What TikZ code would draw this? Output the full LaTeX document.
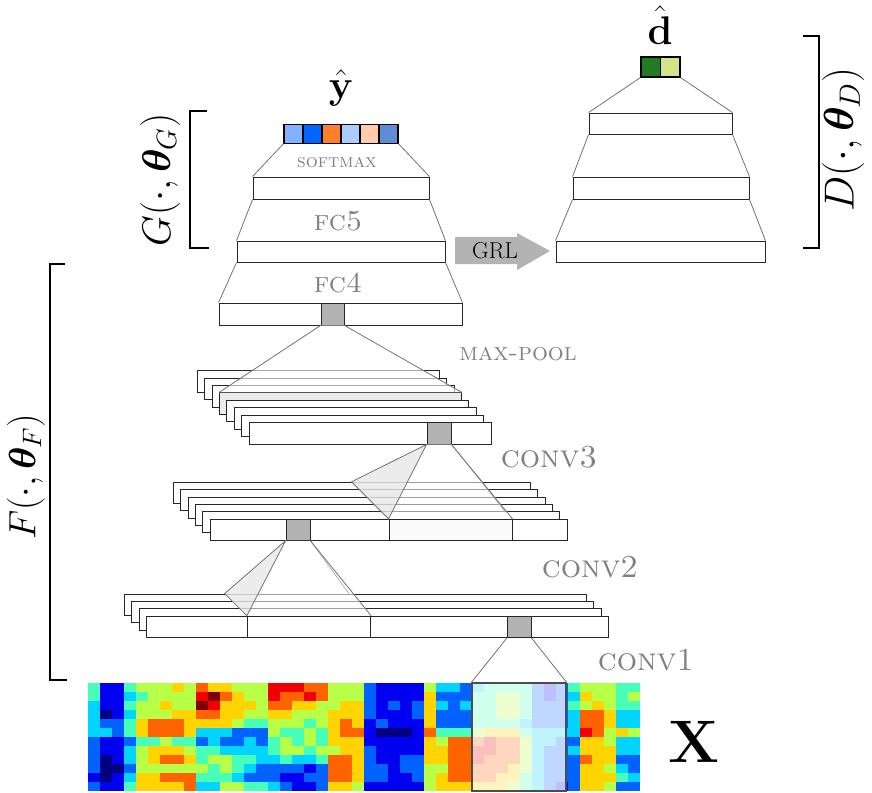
\RequirePackage{fix-cm}
\documentclass[tikz,border=0pt]{standalone}
\usepackage{amsmath}
\usepackage{bm}
\usepackage{tikz}
\usetikzlibrary{calc}
\definecolor{outa}{HTML}{80B3FF}
\definecolor{outb}{HTML}{0066FF}
\definecolor{outc}{HTML}{FF7F2A}
\definecolor{outd}{HTML}{AACCFF}
\definecolor{oute}{HTML}{FFCCAA}
\definecolor{outf}{HTML}{5F8DD3}
\definecolor{doma}{HTML}{227A22}
\definecolor{domb}{HTML}{D4E38A}
\definecolor{cellgray}{HTML}{B3B3B3}

\begin{document}
\begin{tikzpicture}[x=1pt, y=-1pt,
  layer/.style 2 args={draw=black!85, fill=white, line width=0.9pt, inner sep=0pt, minimum width=#1, minimum height=#2},
  unit/.style={draw=black, line width=1.2pt, inner sep=0pt, minimum width=19pt, minimum height=19pt},
  link/.style={draw=black!55, line width=0.8pt},
  faint/.style={draw=black!30, line width=0.8pt},
  lbl/.style={text=black!50, inner sep=0pt, font=\fontsize{#1}{#1}\selectfont\scshape},
  big/.style={inner sep=0pt, font=\fontsize{#1}{#1}\selectfont},
  brk/.style={line width=2.6pt}]
  \useasboundingbox (0,0) rectangle (872,792);

  % label predictor G
  \node[big=40] (yhat) at (341,88) {$\hat{\mathbf{y}}$};
  \foreach \c [count=\i] in {outa,outb,outc,outd,oute,outf}
    \node[unit, fill=\c] (y\i) at (274.5+19*\i,133.7) {};
  \node[layer={176pt}{22pt}] (sm) at (341,188) {};
  \node[layer={208pt}{21pt}] (fc5) at (341,251.5) {};
  \node[layer={243pt}{22pt}] (fc4) at (340.5,314) {};
  \node[layer={23pt}{22pt}, fill=cellgray] (fc4c) at (332.5,314) {};
  \draw[link] (y1.south west) -- (sm.north west);
  \draw[link] (y6.south east) -- (sm.north east);
  \draw[link] (sm.south west) -- (fc5.north west);
  \draw[link] (sm.south east) -- (fc5.north east);
  \draw[link] (fc5.south west) -- (fc4.north west);
  \draw[link] (fc5.south east) -- (fc4.north east);
  \node[lbl=19] (smtxt) at (337,163) {softmax};
  \node[lbl=29] (fc5txt) at (338,221) {fc5};
  \node[lbl=29] (fc4txt) at (338,283) {fc4};

  % domain classifier D
  \node[big=40] (dhat) at (660,25) {$\hat{\mathbf{d}}$};
  \node[unit, fill=doma, minimum width=19.5pt, minimum height=20pt] (d1) at (650.75,67) {};
  \node[unit, fill=domb, minimum width=19.5pt, minimum height=20pt] (d2) at (670.25,67) {};
  \node[layer={143pt}{21pt}] (dd1) at (660.5,123.5) {};
  \node[layer={176pt}{22pt}] (dd2) at (661,188) {};
  \node[layer={209pt}{21pt}] (dd3) at (660.5,251.5) {};
  \draw[link] (d1.south west) -- (dd1.north west);
  \draw[link] (d2.south east) -- (dd1.north east);
  \draw[link] (dd1.south west) -- (dd2.north west);
  \draw[link] (dd1.south east) -- (dd2.north east);
  \draw[link] (dd2.south west) -- (dd3.north west);
  \draw[link] (dd2.south east) -- (dd3.north east);

  % gradient reversal
  \fill[cellgray] (455,237) -- (517,237) -- (517,233) -- (550,251) -- (517,270) -- (517,264) -- (455,264) -- cycle;
  \node[big=23] (grl) at (495,251) {GRL};

  % brackets
  \draw[brk] (207,111) -- (190,111) -- (190,248) -- (209,248);
  \node[big=40, rotate=90] (glbl) at (160,180) {$G(\cdot,\bm{\theta}_G)$};
  \draw[brk] (803,36) -- (819,36) -- (819,248) -- (803,248);
  \node[big=42, rotate=90] (dlbl) at (843,140) {$D(\cdot,\bm{\theta}_D)$};
  \draw[brk] (65,264) -- (50,264) -- (50,680) -- (67,680);
  \node[big=38, rotate=90] (flbl) at (26,477) {$F(\cdot,\bm{\theta}_F)$};

  % max-pool maps
  \foreach \k/\f in {1/white,2/white,3/white,4/black!8,5/white,6/white,7/white,8/white}
    \node[layer={242pt}{21.5pt}, fill=\f] (m\k) at (310.9+7.4*\k,374.05+7.4*\k) {};
  \node[layer={24pt}{21.5pt}, fill=cellgray] (mc) at (439,433.25) {};
  \fill[white, opacity=0.6] (fc4c.south west) -- (fc4c.south east) -- (m4.north east) -- (m4.north west) -- cycle;
  \draw[link] (fc4c.south west) -- (m4.north west);
  \draw[link] (fc4c.south east) -- (m4.north east);
  \node[lbl=25] (mptxt) at (518,354) {max-pool};

  % conv3 maps
  \foreach \k in {1,...,6}
    \node[layer={357pt}{21pt}] (c\k) at (344.4+7.4*\k,485.4+7.4*\k) {};
  \node[layer={123pt}{21pt}, fill=black!2] (crf) at (450.5,529.8) {};
  \node[layer={24pt}{21pt}, fill=cellgray] (cc) at (298,529.8) {};
  \coordinate (cbl) at ($(crf.north west)+(-37,-37)$);
  \coordinate (cbr) at ($(crf.north east)+(-7.4,-7.4)$);
  \fill[white, opacity=0.55] (mc.south west) -- (cbl) -- (crf.north west) -- (crf.north east) -- (mc.south east) -- cycle;
  \filldraw[fill=black!12, fill opacity=0.6, draw=black!55, line width=0.8pt] (mc.south west) -- (cbl) -- (crf.north west) -- cycle;
  \draw[faint] (mc.south east) -- (cbr);
  \draw[link] (mc.south east) -- (crf.north east);
  \node[lbl=32] (c3txt) at (549,457) {conv3};

  % conv2 maps
  \foreach \k in {1,...,4}
    \node[layer={462pt}{21.3pt}] (v\k) at (348.1+7.4*\k,597.25+7.4*\k) {};
  \node[layer={123.4pt}{21.3pt}] (vrf) at (309,626.85) {};
  \node[layer={23.7pt}{21.3pt}, fill=cellgray] (vc) at (519.2,626.85) {};
  \coordinate (vbl) at ($(vrf.north west)+(-22.2,-22.2)$);
  \coordinate (vbr) at ($(vrf.north east)+(-22.2,-22.2)$);
  \fill[white, opacity=0.55] (cc.south west) -- (vbl) -- (vrf.north west) -- (vrf.north east) -- (cc.south east) -- cycle;
  \filldraw[fill=black!12, fill opacity=0.6, draw=black!55, line width=0.8pt] (cc.south west) -- (vbl) -- (vrf.north west) -- cycle;
  \draw[faint] (cc.south east) -- (vbr);
  \draw[link] (cc.south east) -- (vrf.north east);
  \node[lbl=32] (c2txt) at (590,567) {conv2};
  \node[lbl=32] (c1txt) at (646,660) {conv1};

  % input spectrogram
  \begin{scope}
    \clip (88,683) rectangle (640,791);
    \foreach \cv [count=\i from 0] in {
      {4,4,3,3,3,3,2,2,2,2,1,2},{1,1,1,0,2,3,1,1,0,0,0,1},{1,1,1,1,2,2,1,1,1,0,1,1},
      {4,3,4,3,4,4,2,3,3,2,3,4},{5,4,5,5,6,6,4,5,5,5,6,6},{5,5,5,5,7,7,4,6,6,5,6,6},
      {5,5,6,5,7,7,5,6,7,5,7,6},{6,5,5,6,7,7,4,6,7,5,7,6},{5,5,5,6,6,6,4,5,6,5,7,7},
      {7,8,9,7,6,3,2,4,4,5,4,3},{6,9,8,7,6,3,3,4,5,4,4,3},{6,7,6,6,6,3,2,3,5,5,4,5},
      {5,6,6,6,5,2,2,3,4,4,3,5},{5,5,6,5,4,2,3,3,4,3,2,4},{5,5,5,5,4,2,2,3,3,2,2,4},
      {8,8,7,6,5,5,4,4,3,2,2,3},{8,7,7,6,5,4,5,5,4,2,1,2},{8,7,6,5,5,4,4,5,3,2,1,1},
      {7,8,6,5,4,5,5,4,3,1,2,1},{7,7,5,5,5,4,4,5,4,2,2,2},{5,5,5,6,6,6,6,5,7,7,7,6},
      {5,5,6,6,7,7,6,6,7,7,7,6},{5,5,6,6,6,7,6,6,6,6,6,5},{2,2,2,2,1,1,1,2,2,2,2,1},
      {1,1,1,1,2,0,1,1,1,2,2,1},{1,1,2,1,1,0,1,1,1,1,1,1},{1,1,1,1,1,0,1,1,2,2,1,1},
      {1,1,2,2,1,1,1,1,2,2,2,1},{5,6,6,6,6,7,6,6,6,5,5,5},{3,2,3,2,2,4,5,6,6,5,6,6},
      {3,2,2,2,2,4,7,7,7,7,7,6},{2,2,3,2,2,4,7,7,7,7,7,6},{3,4,4,4,4,5,7,8,8,7,7,6},
      {4,4,4,4,4,6,8,8,7,7,7,6},{4,5,5,5,4,6,7,7,7,7,6,6},{4,5,5,5,4,6,7,7,7,6,6,5},
      {4,4,4,4,3,4,5,5,5,5,4,4},{2,2,2,2,2,3,3,3,3,3,3,3},{1,1,2,2,2,3,3,2,2,2,2,2},
      {2,2,2,2,2,3,2,2,2,2,2,1},{4,3,4,3,3,3,2,3,2,2,2,2},{5,6,5,7,7,8,6,6,7,6,6,6},
      {5,5,6,7,7,7,6,6,6,6,6,6},{5,5,5,6,6,5,5,6,6,5,6,5},{4,4,4,3,3,6,3,3,2,3,4,2},
      {4,5,4,3,3,5,3,3,2,2,3,2}} {
      \foreach \v [count=\j from 0] in \cv {
        \pgfmathsetmacro\jr{max(0,min(1,1.5-abs(4*\v/9-3)))}
        \pgfmathsetmacro\jg{max(0,min(1,1.5-abs(4*\v/9-2)))}
        \pgfmathsetmacro\jb{max(0,min(1,1.5-abs(4*\v/9-1)))}
        \definecolor{hm}{rgb}{\jr,\jg,\jb}
        \fill[hm] (88+12*\i,683+9*\j) rectangle ++(12.4,9.4);
      }
    }
  \end{scope}
  \node[draw=black!70, line width=1.2pt, fill=white, fill opacity=0.75, inner sep=0pt,
    minimum width=94pt, minimum height=108pt] (xpatch) at (519,737) {};
  \draw[link] (vc.south west) -- (xpatch.north west);
  \draw[link] (vc.south east) -- (xpatch.north east);
  \node[big=60] (xlbl) at (693.5,742) {$\mathbf{X}$};
\end{tikzpicture}
\end{document}
